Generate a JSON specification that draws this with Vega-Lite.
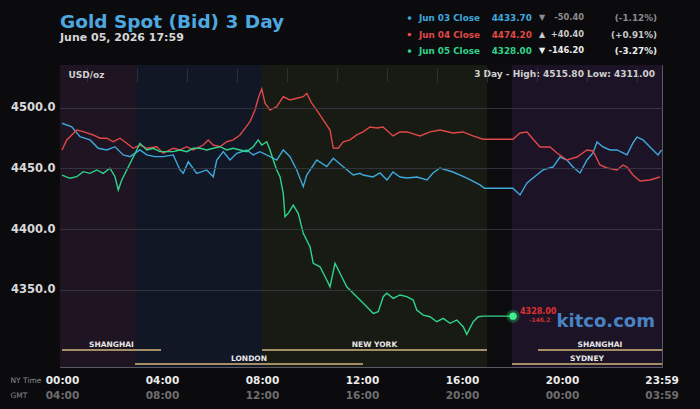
{
  "$schema": "https://vega.github.io/schema/vega-lite/v6.json",
  "width": 602,
  "height": 302,
  "autosize": {"type": "none"},
  "padding": {"left": 60, "top": 65, "right": 38, "bottom": 42},
  "background": "#0b0b0e",
  "title": {
    "text": "Gold Spot (Bid) 3 Day",
    "subtitle": "June 05, 2026 17:59",
    "anchor": "start",
    "frame": "group",
    "font": "DejaVu Sans",
    "fontSize": 18.5,
    "fontWeight": "bold",
    "color": "#4ea8e0",
    "subtitleFont": "DejaVu Sans",
    "subtitleFontSize": 11,
    "subtitleFontWeight": "bold",
    "subtitleColor": "#d6d6d6",
    "subtitlePadding": 1,
    "offset": -30
  },
  "config": {
    "view": {"stroke": "#5a5a64", "strokeWidth": 1},
    "font": "DejaVu Sans"
  },
  "datasets": {
    "bands": [
      {"zone": "asia1", "start": -0.08, "end": 2.92},
      {"zone": "london", "start": 2.92, "end": 8},
      {"zone": "newyork", "start": 8, "end": 17},
      {"zone": "closed", "start": 17, "end": 18},
      {"zone": "asia2", "start": 18, "end": 24}
    ],
    "sessions": [
      {"name": "SHANGHAI", "lane": "upper", "start": 0, "end": 3.96, "mid": 1.98},
      {"name": "NEW YORK", "lane": "upper", "start": 8, "end": 17, "mid": 12.5},
      {"name": "SHANGHAI", "lane": "upper", "start": 19.04, "end": 24, "mid": 21.52},
      {"name": "LONDON", "lane": "lower", "start": 2.92, "end": 12.04, "mid": 7.48},
      {"name": "SYDNEY", "lane": "lower", "start": 18, "end": 24, "mid": 21}
    ],
    "legend": [
      {"s": "Jun 03", "label": "Jun 03 Close", "close": "4433.70", "arrow": "▼", "change": "-50.40", "pct": "(-1.12%)"},
      {"s": "Jun 04", "label": "Jun 04 Close", "close": "4474.20", "arrow": "▲", "change": "+40.40", "pct": "(+0.91%)"},
      {"s": "Jun 05", "label": "Jun 05 Close", "close": "4328.00", "arrow": "▼", "change": "-146.20", "pct": "(-3.27%)"}
    ],
    "last": [
      {"s": "Jun 05", "h": 18.04, "v": 4328, "label": "4328.00", "chg": "-146.2"}
    ],
    "prices": [
      {"s":"Jun 03","h":0,"v":4487.4},{"s":"Jun 03","h":0.39,"v":4484.5},{"s":"Jun 03","h":0.72,"v":4476.3},{"s":"Jun 03","h":1.12,"v":4473.6},{"s":"Jun 03","h":1.45,"v":4466.7},{"s":"Jun 03","h":1.79,"v":4465.3},{"s":"Jun 03","h":2.12,"v":4468},{"s":"Jun 03","h":2.45,"v":4461.2},{"s":"Jun 03","h":2.72,"v":4459.8},{"s":"Jun 03","h":3.12,"v":4465.3},{"s":"Jun 03","h":3.39,"v":4461.2},{"s":"Jun 03","h":3.72,"v":4459.8},{"s":"Jun 03","h":4.04,"v":4459.8},{"s":"Jun 03","h":4.45,"v":4461.2},{"s":"Jun 03","h":4.72,"v":4448.8},{"s":"Jun 03","h":4.85,"v":4446},{"s":"Jun 03","h":5.05,"v":4455.6},{"s":"Jun 03","h":5.39,"v":4446},{"s":"Jun 03","h":5.79,"v":4448.8},{"s":"Jun 03","h":6.05,"v":4443.2},{"s":"Jun 03","h":6.19,"v":4457},{"s":"Jun 03","h":6.45,"v":4463.9},{"s":"Jun 03","h":6.72,"v":4457},{"s":"Jun 03","h":6.99,"v":4462.6},{"s":"Jun 03","h":7.39,"v":4465.3},{"s":"Jun 03","h":7.65,"v":4461.2},{"s":"Jun 03","h":7.92,"v":4463.9},{"s":"Jun 03","h":8.32,"v":4459.8},{"s":"Jun 03","h":8.59,"v":4457},{"s":"Jun 03","h":8.85,"v":4465.3},{"s":"Jun 03","h":9.12,"v":4459.8},{"s":"Jun 03","h":9.39,"v":4448.8},{"s":"Jun 03","h":9.65,"v":4435},{"s":"Jun 03","h":9.79,"v":4444.6},{"s":"Jun 03","h":10.19,"v":4457},{"s":"Jun 03","h":10.59,"v":4451.5},{"s":"Jun 03","h":10.85,"v":4458.4},{"s":"Jun 03","h":11.25,"v":4451.5},{"s":"Jun 03","h":11.65,"v":4444.6},{"s":"Jun 03","h":11.92,"v":4446},{"s":"Jun 03","h":12.04,"v":4444.6},{"s":"Jun 03","h":12.44,"v":4443},{"s":"Jun 03","h":12.72,"v":4446.3},{"s":"Jun 03","h":13.0,"v":4440.5},{"s":"Jun 03","h":13.24,"v":4447.1},{"s":"Jun 03","h":13.52,"v":4443},{"s":"Jun 03","h":13.8,"v":4442.1},{"s":"Jun 03","h":14.2,"v":4443},{"s":"Jun 03","h":14.6,"v":4440.5},{"s":"Jun 03","h":14.84,"v":4446.3},{"s":"Jun 03","h":15.12,"v":4450.4},{"s":"Jun 03","h":15.64,"v":4447.1},{"s":"Jun 03","h":16.2,"v":4442.1},{"s":"Jun 03","h":16.72,"v":4436.4},{"s":"Jun 03","h":16.9,"v":4433.7},{"s":"Jun 03","h":18.04,"v":4433.7},{"s":"Jun 03","h":18.32,"v":4428.1},{"s":"Jun 03","h":18.6,"v":4438},{"s":"Jun 03","h":18.84,"v":4442.1},{"s":"Jun 03","h":19.24,"v":4448.8},{"s":"Jun 03","h":19.64,"v":4451.2},{"s":"Jun 03","h":19.92,"v":4459.5},{"s":"Jun 03","h":20.2,"v":4457},{"s":"Jun 03","h":20.44,"v":4451.2},{"s":"Jun 03","h":20.72,"v":4446.3},{"s":"Jun 03","h":21.0,"v":4457},{"s":"Jun 03","h":21.24,"v":4462.8},{"s":"Jun 03","h":21.4,"v":4471.9},{"s":"Jun 03","h":21.64,"v":4467.8},{"s":"Jun 03","h":21.92,"v":4465.3},{"s":"Jun 03","h":22.2,"v":4465.3},{"s":"Jun 03","h":22.6,"v":4461.2},{"s":"Jun 03","h":22.84,"v":4471.1},{"s":"Jun 03","h":23.0,"v":4476},{"s":"Jun 03","h":23.24,"v":4473.6},{"s":"Jun 03","h":23.52,"v":4467.8},{"s":"Jun 03","h":23.84,"v":4461.2},{"s":"Jun 03","h":23.98,"v":4465.3},
      {"s":"Jun 04","h":0,"v":4465.3},{"s":"Jun 04","h":0.19,"v":4473.6},{"s":"Jun 04","h":0.59,"v":4481.8},{"s":"Jun 04","h":0.85,"v":4480.4},{"s":"Jun 04","h":1.25,"v":4477.7},{"s":"Jun 04","h":1.52,"v":4475},{"s":"Jun 04","h":1.79,"v":4475},{"s":"Jun 04","h":2.05,"v":4472.1},{"s":"Jun 04","h":2.32,"v":4475},{"s":"Jun 04","h":2.59,"v":4470.8},{"s":"Jun 04","h":2.85,"v":4466.7},{"s":"Jun 04","h":3.12,"v":4469.4},{"s":"Jun 04","h":3.39,"v":4466.7},{"s":"Jun 04","h":3.79,"v":4468},{"s":"Jun 04","h":4.05,"v":4462.6},{"s":"Jun 04","h":4.45,"v":4466.7},{"s":"Jun 04","h":4.72,"v":4465.3},{"s":"Jun 04","h":4.99,"v":4468},{"s":"Jun 04","h":5.25,"v":4465.3},{"s":"Jun 04","h":5.65,"v":4469.4},{"s":"Jun 04","h":5.85,"v":4473.6},{"s":"Jun 04","h":6.05,"v":4469.4},{"s":"Jun 04","h":6.32,"v":4468},{"s":"Jun 04","h":6.59,"v":4472.1},{"s":"Jun 04","h":6.85,"v":4473.6},{"s":"Jun 04","h":7.12,"v":4477.7},{"s":"Jun 04","h":7.32,"v":4483.2},{"s":"Jun 04","h":7.52,"v":4488.7},{"s":"Jun 04","h":7.72,"v":4498.3},{"s":"Jun 04","h":7.85,"v":4508},{"s":"Jun 04","h":7.99,"v":4515.8},{"s":"Jun 04","h":8.12,"v":4503.9},{"s":"Jun 04","h":8.32,"v":4498.3},{"s":"Jun 04","h":8.59,"v":4501.1},{"s":"Jun 04","h":8.85,"v":4509.3},{"s":"Jun 04","h":9.12,"v":4506.6},{"s":"Jun 04","h":9.39,"v":4508},{"s":"Jun 04","h":9.65,"v":4509.3},{"s":"Jun 04","h":9.79,"v":4512.1},{"s":"Jun 04","h":9.99,"v":4503.9},{"s":"Jun 04","h":10.19,"v":4498.3},{"s":"Jun 04","h":10.45,"v":4490.1},{"s":"Jun 04","h":10.72,"v":4481.8},{"s":"Jun 04","h":10.85,"v":4466.9},{"s":"Jun 04","h":11.05,"v":4466.7},{"s":"Jun 04","h":11.25,"v":4472.1},{"s":"Jun 04","h":11.52,"v":4473.6},{"s":"Jun 04","h":11.79,"v":4477.7},{"s":"Jun 04","h":12.04,"v":4480.2},{"s":"Jun 04","h":12.32,"v":4484.3},{"s":"Jun 04","h":12.6,"v":4483.5},{"s":"Jun 04","h":12.84,"v":4484.3},{"s":"Jun 04","h":13.24,"v":4476.9},{"s":"Jun 04","h":13.52,"v":4480.2},{"s":"Jun 04","h":13.8,"v":4480.2},{"s":"Jun 04","h":14.32,"v":4476.9},{"s":"Jun 04","h":14.72,"v":4480.2},{"s":"Jun 04","h":15.12,"v":4481.8},{"s":"Jun 04","h":15.64,"v":4479.3},{"s":"Jun 04","h":16.04,"v":4480.2},{"s":"Jun 04","h":16.44,"v":4476.9},{"s":"Jun 04","h":16.84,"v":4474.2},{"s":"Jun 04","h":18.04,"v":4474.2},{"s":"Jun 04","h":18.32,"v":4479.3},{"s":"Jun 04","h":18.6,"v":4480.2},{"s":"Jun 04","h":18.84,"v":4474.4},{"s":"Jun 04","h":19.12,"v":4467.8},{"s":"Jun 04","h":19.52,"v":4467.8},{"s":"Jun 04","h":19.8,"v":4462.8},{"s":"Jun 04","h":20.2,"v":4457},{"s":"Jun 04","h":20.6,"v":4459.5},{"s":"Jun 04","h":21.0,"v":4465.3},{"s":"Jun 04","h":21.24,"v":4464.5},{"s":"Jun 04","h":21.52,"v":4452.9},{"s":"Jun 04","h":21.8,"v":4450.4},{"s":"Jun 04","h":22.2,"v":4448.8},{"s":"Jun 04","h":22.44,"v":4452.9},{"s":"Jun 04","h":22.6,"v":4451.2},{"s":"Jun 04","h":22.84,"v":4444.6},{"s":"Jun 04","h":23.12,"v":4439.7},{"s":"Jun 04","h":23.52,"v":4440.5},{"s":"Jun 04","h":23.92,"v":4443},
      {"s":"Jun 05","h":0,"v":4444.6},{"s":"Jun 05","h":0.32,"v":4441.9},{"s":"Jun 05","h":0.59,"v":4443.2},{"s":"Jun 05","h":0.85,"v":4447.4},{"s":"Jun 05","h":1.12,"v":4446},{"s":"Jun 05","h":1.39,"v":4448.8},{"s":"Jun 05","h":1.65,"v":4446},{"s":"Jun 05","h":1.92,"v":4450.2},{"s":"Jun 05","h":2.12,"v":4443.2},{"s":"Jun 05","h":2.25,"v":4432.2},{"s":"Jun 05","h":2.39,"v":4440.5},{"s":"Jun 05","h":2.59,"v":4448.8},{"s":"Jun 05","h":2.79,"v":4457},{"s":"Jun 05","h":2.99,"v":4465.3},{"s":"Jun 05","h":3.12,"v":4470.8},{"s":"Jun 05","h":3.39,"v":4465.3},{"s":"Jun 05","h":3.65,"v":4466.7},{"s":"Jun 05","h":3.92,"v":4463.9},{"s":"Jun 05","h":4.19,"v":4463.9},{"s":"Jun 05","h":4.45,"v":4463.9},{"s":"Jun 05","h":4.72,"v":4465.3},{"s":"Jun 05","h":4.99,"v":4463.9},{"s":"Jun 05","h":5.25,"v":4466.7},{"s":"Jun 05","h":5.52,"v":4466.7},{"s":"Jun 05","h":5.79,"v":4465.3},{"s":"Jun 05","h":6.05,"v":4466.7},{"s":"Jun 05","h":6.32,"v":4468},{"s":"Jun 05","h":6.59,"v":4465.3},{"s":"Jun 05","h":6.85,"v":4466.7},{"s":"Jun 05","h":7.12,"v":4465.3},{"s":"Jun 05","h":7.39,"v":4463.9},{"s":"Jun 05","h":7.65,"v":4468},{"s":"Jun 05","h":7.85,"v":4473.6},{"s":"Jun 05","h":7.99,"v":4469.4},{"s":"Jun 05","h":8.19,"v":4472.1},{"s":"Jun 05","h":8.32,"v":4465.3},{"s":"Jun 05","h":8.45,"v":4457},{"s":"Jun 05","h":8.59,"v":4448.8},{"s":"Jun 05","h":8.72,"v":4443.2},{"s":"Jun 05","h":8.85,"v":4429.5},{"s":"Jun 05","h":8.92,"v":4410.2},{"s":"Jun 05","h":9.05,"v":4413},{"s":"Jun 05","h":9.25,"v":4419.8},{"s":"Jun 05","h":9.45,"v":4413},{"s":"Jun 05","h":9.65,"v":4396.4},{"s":"Jun 05","h":9.92,"v":4385.4},{"s":"Jun 05","h":10.05,"v":4371.7},{"s":"Jun 05","h":10.32,"v":4368.8},{"s":"Jun 05","h":10.59,"v":4357.9},{"s":"Jun 05","h":10.72,"v":4352.3},{"s":"Jun 05","h":10.92,"v":4371.7},{"s":"Jun 05","h":11.12,"v":4363.4},{"s":"Jun 05","h":11.39,"v":4352.3},{"s":"Jun 05","h":11.65,"v":4346.9},{"s":"Jun 05","h":11.92,"v":4341.3},{"s":"Jun 05","h":12.19,"v":4335.8},{"s":"Jun 05","h":12.45,"v":4330.3},{"s":"Jun 05","h":12.65,"v":4331.7},{"s":"Jun 05","h":12.85,"v":4344.1},{"s":"Jun 05","h":12.99,"v":4346.9},{"s":"Jun 05","h":13.25,"v":4342.7},{"s":"Jun 05","h":13.52,"v":4345.5},{"s":"Jun 05","h":13.79,"v":4344.1},{"s":"Jun 05","h":14.05,"v":4341.3},{"s":"Jun 05","h":14.19,"v":4333.1},{"s":"Jun 05","h":14.45,"v":4328.9},{"s":"Jun 05","h":14.72,"v":4327.5},{"s":"Jun 05","h":14.99,"v":4323.4},{"s":"Jun 05","h":15.25,"v":4326.2},{"s":"Jun 05","h":15.52,"v":4322.1},{"s":"Jun 05","h":15.79,"v":4324.8},{"s":"Jun 05","h":16.05,"v":4319.3},{"s":"Jun 05","h":16.19,"v":4313},{"s":"Jun 05","h":16.45,"v":4323.4},{"s":"Jun 05","h":16.65,"v":4327.5},{"s":"Jun 05","h":16.85,"v":4328},{"s":"Jun 05","h":18.04,"v":4328}
    ]
  },
  "layer": [
    {
      "data": {"name": "bands"},
      "mark": {"type": "rect"},
      "encoding": {
        "x": {
          "field": "start", "type": "quantitative",
          "scale": {"domain": [-0.08, 24], "nice": false, "zero": false},
          "axis": {
            "orient": "bottom",
            "values": [0, 4, 8, 12, 16, 20, 23.983],
            "labelExpr": "datum.value > 23.5 ? '03:59' : (((datum.value + 4) % 24) < 10 ? '0' : '') + ((datum.value + 4) % 24) + ':00'",
            "offset": 15, "grid": false, "ticks": false, "tickSize": 0, "domain": false,
            "labelColor": "#6e6e6e", "labelFontSize": 10.5, "labelFontWeight": "bold", "labelPadding": 8,
            "labelFlush": false, "labelOverlap": false,
            "title": "GMT", "titleX": -50, "titleY": 13, "titleAlign": "left", "titleBaseline": "middle",
            "titleFontSize": 7.5, "titleFontWeight": "normal", "titleColor": "#8a8a8a"
          }
        },
        "x2": {"field": "end"},
        "color": {
          "field": "zone", "type": "nominal",
          "scale": {"domain": ["asia1", "london", "newyork", "closed", "asia2"], "range": ["#1f1421", "#121726", "#171b13", "#0c0c0e", "#1c1426"]},
          "legend": null
        }
      }
    },
    {
      "data": {"name": "sessions"},
      "layer": [
        {
          "mark": {"type": "rule", "color": "#a48e66", "strokeWidth": 2},
          "encoding": {
            "x": {
              "field": "start", "type": "quantitative",
              "scale": {"domain": [-0.08, 24], "nice": false, "zero": false},
              "axis": {
                "orient": "bottom", "zindex": 1,
                "values": [1,2,3,4,5,6,7,8,9,10,11,12,13,14,15,16,17,18,19,20,21,22,23],
                "labels": false, "ticks": false, "domain": false, "title": null,
                "grid": true, "gridColor": "#3a3a46", "gridOpacity": 0.7, "gridWidth": 1
              }
            },
            "x2": {"field": "end"},
            "y": {"field": "lane", "type": "nominal", "scale": {"type": "point", "domain": ["upper", "lower"], "range": [285, 299], "padding": 0}, "axis": null}
          }
        },
        {
          "mark": {"type": "text", "baseline": "bottom", "dy": -1, "fontSize": 7.5, "fontWeight": "bold", "color": "#e6e6e6"},
          "encoding": {
            "x": {"field": "mid", "type": "quantitative"},
            "y": {"field": "lane", "type": "nominal"},
            "text": {"field": "name"}
          }
        }
      ]
    },
    {
      "data": {"name": "prices"},
      "layer": [
        {
          "mark": {"type": "line", "strokeWidth": 1.4},
          "encoding": {
            "x": {
              "field": "h", "type": "quantitative",
              "scale": {"domain": [-0.08, 24], "nice": false, "zero": false},
              "axis": {
                "orient": "bottom",
                "values": [0, 4, 8, 12, 16, 20, 23.983],
                "labelExpr": "datum.value > 23.5 ? '23:59' : (datum.value < 10 ? '0' : '') + datum.value + ':00'",
                "grid": false, "ticks": false, "tickSize": 0, "domain": false,
                "labelColor": "#ececec", "labelFontSize": 10.5, "labelFontWeight": "bold", "labelPadding": 8,
                "labelFlush": false, "labelOverlap": false,
                "title": "NY Time", "titleX": -50, "titleY": 13, "titleAlign": "left", "titleBaseline": "middle",
                "titleFontSize": 7.5, "titleFontWeight": "normal", "titleColor": "#8a8a8a"
              }
            },
            "y": {
              "field": "v", "type": "quantitative",
              "scale": {"domain": [4286, 4535.5], "nice": false, "zero": false},
              "axis": {
                "orient": "left", "zindex": 1,
                "values": [4350, 4400, 4450, 4500], "format": ".1f",
                "grid": true, "gridColor": "#3b3b47", "gridOpacity": 0.8, "ticks": false, "tickSize": 0, "domain": false,
                "labelColor": "#d8d8d8", "labelFontSize": 11.5, "labelFontWeight": "bold", "labelPadding": 5,
                "title": "USD/oz", "titleAngle": 0, "titleX": 8, "titleY": 9, "titleAlign": "left", "titleBaseline": "middle",
                "titleFontSize": 9, "titleFontWeight": "bold", "titleColor": "#cfcfcf"
              }
            },
            "color": {
              "field": "s", "type": "nominal",
              "scale": {"domain": ["Jun 03", "Jun 04", "Jun 05"], "range": ["#3fa8dc", "#e04848", "#2fd48a"]},
              "legend": null
            }
          }
        },
        {
          "data": {"name": "last"},
          "mark": {"type": "point", "filled": true, "size": 170, "opacity": 0.25, "color": "#3ef08c"},
          "encoding": {
            "x": {"field": "h", "type": "quantitative"},
            "y": {"field": "v", "type": "quantitative"}
          }
        },
        {
          "data": {"name": "last"},
          "mark": {"type": "point", "filled": true, "size": 55, "opacity": 1, "color": "#3ef08c"},
          "encoding": {
            "x": {"field": "h", "type": "quantitative"},
            "y": {"field": "v", "type": "quantitative"}
          }
        },
        {
          "data": {"name": "last"},
          "mark": {"type": "text", "align": "left", "baseline": "middle", "dx": 7, "dy": -4, "fontSize": 8, "fontWeight": "bold", "color": "#e03030"},
          "encoding": {
            "x": {"field": "h", "type": "quantitative"},
            "y": {"field": "v", "type": "quantitative"},
            "text": {"field": "label"}
          }
        },
        {
          "data": {"name": "last"},
          "mark": {"type": "text", "align": "left", "baseline": "middle", "dx": 16, "dy": 4, "fontSize": 6, "fontWeight": "bold", "color": "#d03030"},
          "encoding": {
            "x": {"field": "h", "type": "quantitative"},
            "y": {"field": "v", "type": "quantitative"},
            "text": {"field": "chg"}
          }
        },
        {
          "data": {"values": [{"site": "kitco.com"}]},
          "mark": {"type": "text", "align": "right", "baseline": "middle", "fontSize": 18, "fontWeight": "bold", "color": "#4e90d4", "opacity": 0.9},
          "encoding": {
            "x": {"datum": 23.72, "type": "quantitative"},
            "y": {"datum": 4323, "type": "quantitative"},
            "text": {"field": "site"}
          }
        },
        {
          "data": {"values": [{"info": "3 Day - High: 4515.80  Low: 4311.00"}]},
          "mark": {"type": "text", "align": "right", "baseline": "middle", "dy": 9, "fontSize": 9, "fontWeight": "bold", "color": "#cfcfcf"},
          "encoding": {
            "x": {"datum": 23.72, "type": "quantitative"},
            "y": {"datum": 4535.5, "type": "quantitative"},
            "text": {"field": "info"}
          }
        }
      ]
    },
    {
      "data": {"name": "legend"},
      "encoding": {
        "y": {"field": "s", "type": "nominal", "scale": {"type": "point", "domain": ["Jun 03", "Jun 04", "Jun 05"], "range": [-47, -14], "padding": 0}, "axis": null}
      },
      "layer": [
        {
          "mark": {"type": "point", "filled": true, "size": 14, "opacity": 1},
          "encoding": {
            "x": {"datum": 13.9, "type": "quantitative", "axis": null},
            "color": {"field": "s", "type": "nominal", "scale": {"domain": ["Jun 03", "Jun 04", "Jun 05"], "range": ["#3fa8dc", "#e04848", "#2fd48a"]}, "legend": null}
          }
        },
        {
          "mark": {"type": "text", "align": "left", "baseline": "middle", "fontSize": 8.8, "fontWeight": "bold"},
          "encoding": {
            "x": {"datum": 14.28, "type": "quantitative"},
            "text": {"field": "label"},
            "color": {"field": "s", "type": "nominal", "legend": null}
          }
        },
        {
          "mark": {"type": "text", "align": "left", "baseline": "middle", "fontSize": 8.8, "fontWeight": "bold"},
          "encoding": {
            "x": {"datum": 17.19, "type": "quantitative"},
            "text": {"field": "close"},
            "color": {"field": "s", "type": "nominal", "legend": null}
          }
        },
        {
          "mark": {"type": "text", "align": "center", "baseline": "middle", "fontSize": 8, "fontWeight": "bold"},
          "encoding": {
            "x": {"datum": 19.2, "type": "quantitative"},
            "text": {"field": "arrow"},
            "color": {"condition": [{"test": "datum.s === 'Jun 05'", "value": "#eeeeee"}, {"test": "datum.s === 'Jun 04'", "value": "#c8c8c8"}], "value": "#8c8c8c"}
          }
        },
        {
          "mark": {"type": "text", "align": "right", "baseline": "middle", "fontSize": 8.3, "fontWeight": "bold"},
          "encoding": {
            "x": {"datum": 20.88, "type": "quantitative"},
            "text": {"field": "change"},
            "color": {"condition": [{"test": "datum.s === 'Jun 05'", "value": "#eeeeee"}, {"test": "datum.s === 'Jun 04'", "value": "#c8c8c8"}], "value": "#8c8c8c"}
          }
        },
        {
          "mark": {"type": "text", "align": "right", "baseline": "middle", "fontSize": 8.8, "fontWeight": "bold"},
          "encoding": {
            "x": {"datum": 23.8, "type": "quantitative"},
            "text": {"field": "pct"},
            "color": {"condition": [{"test": "datum.s === 'Jun 05'", "value": "#eeeeee"}, {"test": "datum.s === 'Jun 04'", "value": "#c8c8c8"}], "value": "#8c8c8c"}
          }
        }
      ]
    }
  ],
  "resolve": {
    "scale": {"y": "independent", "color": "independent"},
    "axis": {"x": "independent", "y": "independent"}
  }
}
